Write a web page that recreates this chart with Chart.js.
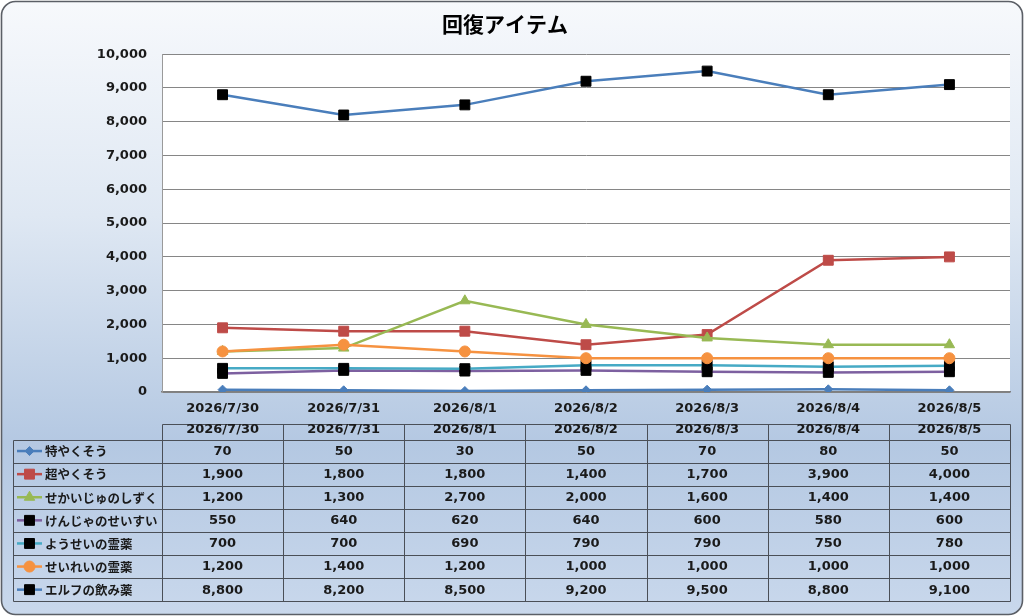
<!DOCTYPE html>
<html><head><meta charset="utf-8">
<script src="https://cdn.jsdelivr.net/npm/chart.js@4/dist/chart.umd.min.js"></script>
<style>html,body{margin:0;padding:0;background:#fff}#wrap{width:1024px;height:616px;position:relative}</style>
</head><body><div id="wrap"><canvas id="c" width="1024" height="616"></canvas></div>
<script>
const chartTitle = '回復アイテム';
const categories = ['2026/7/30','2026/7/31','2026/8/1','2026/8/2','2026/8/3','2026/8/4','2026/8/5'];
const seriesNames = ['特やくそう','超やくそう','せかいじゅのしずく','けんじゃのせいすい','ようせいの霊薬','せいれいの霊薬','エルフの飲み薬'];
const tokuYakusou = [70,50,30,50,70,80,50];
const chouYakusou = [1900,1800,1800,1400,1700,3900,4000];
const sekaijuNoShizuku = [1200,1300,2700,2000,1600,1400,1400];
const kenjaNoSeisui = [550,640,620,640,600,580,600];
const youseiNoReiyaku = [700,700,690,790,790,750,780];
const seireiNoReiyaku = [1200,1400,1200,1000,1000,1000,1000];
const elfNoNomigusuri = [8800,8200,8500,9200,9500,8800,9100];
const yTicks = [0,1000,2000,3000,4000,5000,6000,7000,8000,9000,10000];

const seriesValues = [tokuYakusou, chouYakusou, sekaijuNoShizuku, kenjaNoSeisui, youseiNoReiyaku, seireiNoReiyaku, elfNoNomigusuri];
const lineColors = ['#4A7EBB','#BE4B48','#98B954','#7D60A0','#46AAC5','#F69240','#4A7EBB'];
const markerFill = ['#4A7EBB','#BE4B48','#98B954','#000000','#000000','#F69240','#000000'];
const markerStyle = ['rectRot','rect','triangle','rect','rect','circle','rect'];
const markerRadius = [4.5,7,6,7,7,5.5,7];

const FONT = '"Noto Sans CJK JP","Noto Sans",sans-serif';
const NUMFONT = '"DejaVu Sans","Noto Sans CJK JP",sans-serif';
const fmt = v => v.toLocaleString('en-US');

const datasets = seriesNames.map((n,i)=>({
  label:n, data:seriesValues[i],
  borderColor:lineColors[i], backgroundColor:markerFill[i],
  pointBackgroundColor:markerFill[i], pointBorderColor:markerFill[i],
  pointStyle:markerStyle[i], pointRadius:markerRadius[i], pointBorderWidth:1,
  borderWidth:2.5, tension:0, order: seriesNames.length - i
}));

const bgPlugin = {
  id:'bg',
  beforeDraw(chart){
    const ctx = chart.ctx;
    ctx.save();
    ctx.fillStyle='#ffffff'; ctx.fillRect(0,0,1024,616);
    const g = ctx.createLinearGradient(0,0,0,616);
    g.addColorStop(0,'#f7f9fc');
    g.addColorStop(0.35,'#dfe8f3');
    g.addColorStop(0.72,'#b4c8e2');
    g.addColorStop(1,'#c9d8ec');
    ctx.beginPath();
    ctx.roundRect(1.5,1.5,1021,613,14);
    ctx.fillStyle=g; ctx.fill();
    ctx.lineWidth=1.6; ctx.strokeStyle='#5b5f66'; ctx.stroke();
    const a = chart.chartArea;
    ctx.fillStyle='#ffffff';
    ctx.fillRect(a.left,a.top,a.right-a.left,a.bottom-a.top);
    ctx.restore();
  }
};

const tablePlugin = {
  id:'dataTable',
  afterDraw(chart){
    const ctx = chart.ctx, xs = chart.scales.x, a = chart.chartArea;
    const n = categories.length;
    const colW = (a.right - a.left)/n;
    const bounds = [];
    for(let i=0;i<=n;i++) bounds.push(a.left + colW*i);
    const headTop = 424, rowTop = 439.5, rowH = 23.1, leftX = 13.5;
    const bottom = rowTop + rowH*seriesNames.length;
    ctx.save();
    ctx.strokeStyle='#4a4f57'; ctx.lineWidth=1;
    ctx.beginPath();
    ctx.moveTo(Math.round(a.left)+0.5, headTop+0.5); ctx.lineTo(Math.round(a.right)+0.5, headTop+0.5);
    for(let r=0;r<=seriesNames.length;r++){
      const y = Math.round(rowTop + rowH*r)+0.5;
      ctx.moveTo(leftX, y); ctx.lineTo(Math.round(a.right)+0.5, y);
    }
    ctx.moveTo(leftX, Math.round(rowTop)+0.5); ctx.lineTo(leftX, Math.round(bottom)+0.5);
    bounds.forEach(x=>{ ctx.moveTo(Math.round(x)+0.5, headTop+0.5); ctx.lineTo(Math.round(x)+0.5, Math.round(bottom)+0.5); });
    ctx.stroke();
    ctx.fillStyle='#1a1a1a'; ctx.textAlign='center'; ctx.textBaseline='middle';
    ctx.font='bold 13px '+NUMFONT;
    categories.forEach((c,i)=>{ ctx.fillText(c, xs.getPixelForValue(i), headTop+6); });
    seriesNames.forEach((name,r)=>{
      const cy = rowTop + rowH*r + rowH/2;
      ctx.strokeStyle=lineColors[r]; ctx.lineWidth=2.5;
      ctx.beginPath(); ctx.moveTo(17,cy); ctx.lineTo(42,cy); ctx.stroke();
      ctx.fillStyle=markerFill[r]; ctx.strokeStyle=markerFill[r]; ctx.lineWidth=1;
      Chart.helpers.drawPoint(ctx,{pointStyle:markerStyle[r], radius:markerRadius[r], rotation:0, borderWidth:1}, 29.5, cy);
      ctx.fillStyle='#1a1a1a';
      ctx.textAlign='left'; ctx.font='bold 12.5px '+FONT;
      ctx.fillText(name, 45, cy+0.5);
      ctx.textAlign='center'; ctx.font='bold 13px '+NUMFONT;
      seriesValues[r].forEach((v,i)=>{ ctx.fillText(fmt(v), xs.getPixelForValue(i), cy+0.5); });
    });
    ctx.restore();
  }
};

new Chart(document.getElementById('c'),{
  type:'line',
  data:{labels:categories, datasets},
  options:{
    responsive:false, animation:false, devicePixelRatio:1,
    layout:{padding:{left:0,right:14,top:0,bottom:0}},
    plugins:{
      legend:{display:false}, tooltip:{enabled:false},
      title:{display:true, text:chartTitle, color:'#000', font:{family:FONT,size:21,weight:'bold'}, padding:{top:11,bottom:18}}
    },
    scales:{
      x:{
        offset:true,
        grid:{display:false, drawTicks:false},
        border:{color:'#7f7f7f', width:1.5},
        ticks:{color:'#1a1a1a', font:{family:NUMFONT,size:13,weight:'bold'}, padding:9, maxRotation:0, autoSkip:false},
        afterFit(s){ s.height = 224; }
      },
      y:{
        min:0, max:10000,
        afterBuildTicks(s){ s.ticks = yTicks.map(v=>({value:v})); },
        grid:{color:'#868686', lineWidth:1, drawTicks:false},
        border:{color:'#9a9a9a', width:1},
        ticks:{color:'#1a1a1a', font:{family:NUMFONT,size:13,weight:'bold'}, padding:15, callback:v=>fmt(v)},
        afterFit(s){ s.width = 162; }
      }
    }
  },
  plugins:[bgPlugin, tablePlugin]
});
</script></body></html>
